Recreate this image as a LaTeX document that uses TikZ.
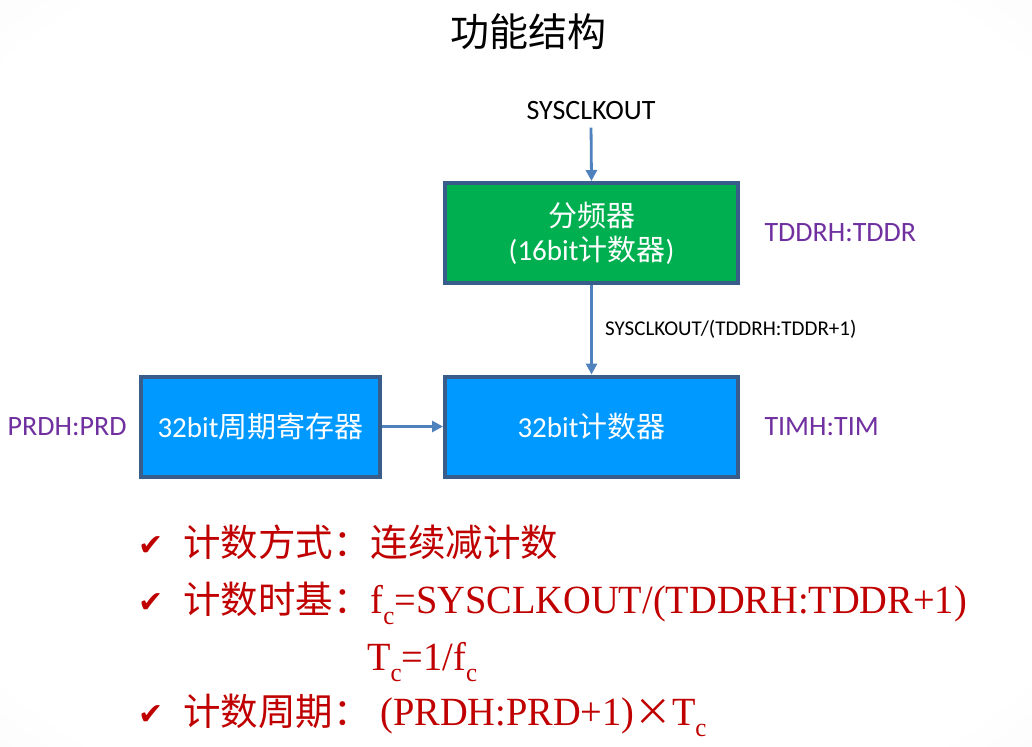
\documentclass[tikz,border=0pt]{standalone}
\usepackage{fontspec}
\setmainfont{Carlito}
\newfontfamily\cjk{Noto Sans CJK SC}
\newfontfamily\tnr[FakeStretch=0.96]{Liberation Serif}
\newfontfamily\sym{DejaVu Sans}
\usetikzlibrary{arrows.meta,positioning}
\definecolor{boxgreen}{RGB}{0,176,80}
\definecolor{boxblue}{RGB}{0,153,255}
\definecolor{boxedge}{RGB}{56,93,138}
\definecolor{flowblue}{RGB}{79,129,189}
\definecolor{regpurple}{RGB}{112,48,160}
\definecolor{notered}{RGB}{192,0,0}
\pgfdeclareradialshading{slidebg}{\pgfpoint{0bp}{0bp}}{color(0bp)=(white); color(32bp)=(white); color(50bp)=(black!6); color(72bp)=(black!13)}
\newcommand{\lowc}{\raisebox{-0.28em}{\fontsize{26}{26}\selectfont c}}
\newcommand{\cjknote}{\cjk\fontsize{37.5}{40}\selectfont}
\tikzset{
  unit box/.style={
    rectangle, draw=boxedge, line width=4pt, text=white,
    align=center, minimum height=100pt,
    font=\fontsize{29}{34}\selectfont
  },
  flow arrow/.style={-{Triangle[length=11pt,width=11pt]}, line width=2.8pt, flowblue},
  reg label/.style={text=regpurple, font=\fontsize{28}{30}\selectfont},
  note line/.style={text=notered, anchor=base west, inner sep=0pt, font=\tnr\fontsize{40}{44}\selectfont},
  check mark/.style={text=notered, anchor=base west, inner sep=0pt, font=\sym\fontsize{30}{30}\selectfont}
}
\begin{document}
\begin{tikzpicture}[x=1pt,y=-1pt]
  \useasboundingbox (0,0) rectangle (1032,746);
  \shade[shading=slidebg] (0,0) rectangle (1032,746);

  \node[font=\cjk\fontsize{39}{39}\selectfont] (title) at (528,32) {功能结构};
  \node[font=\fontsize{28}{28}\selectfont] (sysclk) at (591,111) {SYSCLKOUT};

  % timer blocks
  \node[unit box, fill=boxgreen, minimum width=293pt] (divider) at (591.5,233)
    {{\cjk 分频器}\\(16bit{\cjk 计数器})};
  \node[unit box, fill=boxblue, minimum width=293pt] (counter) at (591.5,426.5)
    {32bit{\cjk 计数器}};
  \node[unit box, fill=boxblue, minimum width=239pt] (period) at (260.5,426.5)
    {32bit{\cjk 周期寄存器}};

  \node[reg label, right=21pt of divider] (tddr) {TDDRH:TDDR};
  \node[reg label, right=21pt of counter] (tim) {TIMH:TIM};
  \node[reg label, left=9pt of period] (prd) {PRDH:PRD};

  \draw[flow arrow, shorten <=4pt] (sysclk.south) -- (divider.north);
  \draw[flow arrow] (divider.south) -- node[right=9pt, text=black, font=\fontsize{21}{21}\selectfont] (clkdiv)
    {SYSCLKOUT/(TDDRH:TDDR+1)} (counter.north);
  \draw[flow arrow] (period.east) -- (counter.west);

  % notes
  \node[check mark] (tick1) at (138,555) {✔};
  \node[check mark] (tick2) at (138,612) {✔};
  \node[check mark] (tick3) at (138,724) {✔};
  \node[note line] (mode) at (183,556) {{\cjknote 计数方式：连续减计数}};
  \node[note line] (base) at (183,613) {{\cjknote 计数时基：}f\lowc=SYSCLKOUT/(TDDRH:TDDR+1)};
  \node[note line] (tc) at (367,670) {T\lowc=1/f\lowc};
  \node[note line] (cycle) at (183,725) {{\cjknote 计数周期：} (PRDH:PRD+1){\cjknote ×}T\lowc};
\end{tikzpicture}
\end{document}
